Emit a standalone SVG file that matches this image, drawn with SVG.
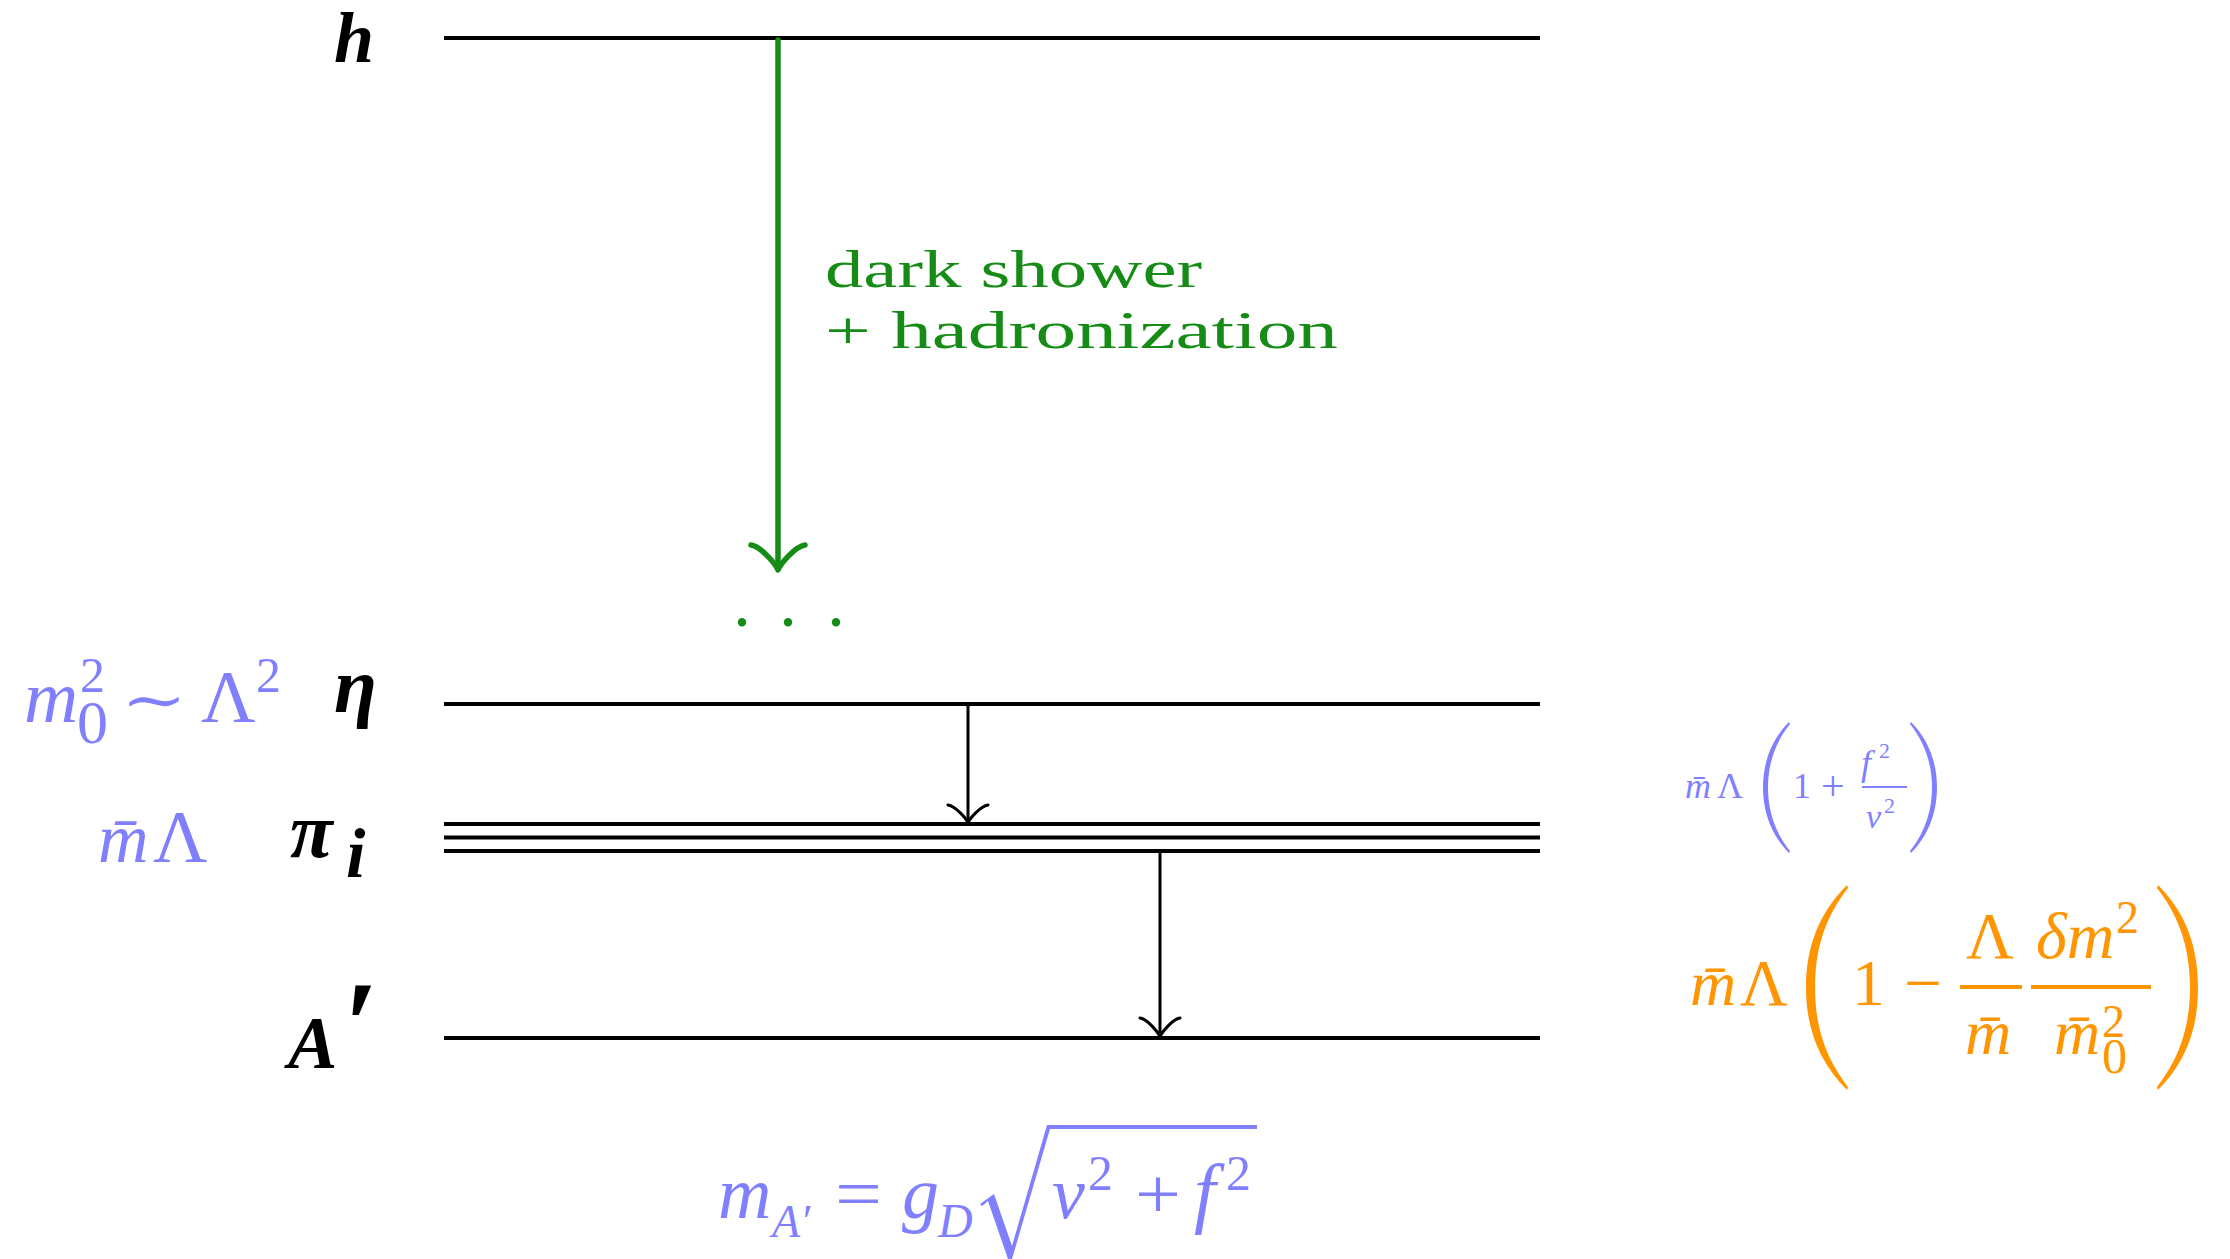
<svg xmlns="http://www.w3.org/2000/svg" width="2230" height="1259" viewBox="0 0 2230 1259">
<style>
.lvl{stroke:#000;stroke-width:4;fill:none}
.arr{stroke:#000;stroke-width:3;fill:none;stroke-linecap:round;stroke-linejoin:round}
.garr{stroke:#168c16;stroke-width:5.5;fill:none;stroke-linecap:round;stroke-linejoin:round}
.lbl{font-family:'Liberation Serif','DejaVu Serif',serif;font-style:italic;font-weight:bold;fill:#000}
.mi{font-family:'Liberation Serif','DejaVu Serif',serif;font-style:italic}
.mr{font-family:'Liberation Serif','DejaVu Serif',serif}
.blue{fill:#8080ff}
.orange{fill:#ff9500}
.green{fill:#168c16;font-family:'Liberation Serif','DejaVu Serif',serif}
.bbar{stroke:#8080ff;fill:none}
.obar{stroke:#ff9500;fill:none}
</style>
<rect width="2230" height="1259" fill="#fff"/>

<g id="level-h">
  <line class="lvl" x1="444" y1="38" x2="1540" y2="38"/>
  <text class="lbl" x="334" y="62" font-size="72">h</text>
</g>

<g id="ellipsis">
  <text class="green" font-size="72" x="733 779 827" y="626">...</text>
</g>

<g id="level-eta">
  <line class="lvl" x1="444" y1="704" x2="1540" y2="704"/>
  <text class="lbl" x="334" y="712" font-size="78">η</text>
  <g id="label-m0">
    <text class="mi blue" x="24" y="722" font-size="75">m</text>
    <text class="mr blue" x="80" y="692" font-size="50">2</text>
    <text class="mr blue" x="77" y="743" font-size="62">0</text>
    <text class="mr blue" x="121" y="720" font-size="58" textLength="66" lengthAdjust="spacingAndGlyphs">∼</text>
    <text class="mr blue" x="201" y="722" font-size="75">Λ</text>
    <text class="mr blue" x="256" y="692" font-size="50">2</text>
  </g>
</g>

<g id="level-pi">
  <line class="lvl" x1="444" y1="824" x2="1540" y2="824"/>
  <line class="lvl" x1="444" y1="837.5" x2="1540" y2="837.5"/>
  <line class="lvl" x1="444" y1="851" x2="1540" y2="851"/>
  <text class="lbl" x="290" y="857" font-size="78">π</text>
  <text class="lbl" x="346" y="877" font-size="70">i</text>
  <g id="label-mL">
    <text class="mi blue" x="98" y="862" font-size="70">m̄</text>
    <text class="mr blue" x="153" y="862" font-size="75">Λ</text>
  </g>
  <g id="label-pi-right">
    <text class="mi blue" x="1685" y="798" font-size="36">m̄</text>
    <text class="mr blue" x="1717" y="798" font-size="36">Λ</text>
    <path class="blue" d="M1789,722 C1770,741 1763,765 1763,787.5 C1763,810 1770,834 1789,853 L1790,851 C1774,831 1768,809 1768,787.5 C1768,766 1774,744 1790,724 Z"/>
    <text class="mr blue" x="1793" y="798" font-size="36">1</text>
    <text class="mr blue" x="1821" y="800" font-size="42">+</text>
    <text class="mi blue" x="1861" y="775" font-size="36">f</text>
    <text class="mr blue" x="1879" y="758" font-size="22">2</text>
    <line class="bbar" stroke-width="2.2" x1="1862" y1="787" x2="1907" y2="787"/>
    <text class="mi blue" x="1866" y="828" font-size="34">v</text>
    <text class="mr blue" x="1884" y="813" font-size="22">2</text>
    <path class="blue" d="M1911,722 C1930,741 1937,765 1937,787.5 C1937,810 1930,834 1911,853 L1910,851 C1926,831 1932,809 1932,787.5 C1932,766 1926,744 1910,724 Z"/>
  </g>
</g>

<g id="level-A">
  <line class="lvl" x1="444" y1="1038" x2="1540" y2="1038"/>
  <text class="lbl" x="288" y="1068" font-size="74">A<tspan font-size="125" dx="5">′</tspan></text>
  <g id="label-A-right">
    <text class="mi orange" x="1690" y="1005" font-size="64">m̄</text>
    <text class="mr orange" x="1740" y="1005" font-size="66">Λ</text>
    <path class="orange" d="M1847,885 C1817,915 1806,950 1806,987.5 C1806,1025 1817,1060 1847,1090 L1848,1087 C1823,1055 1815,1022 1815,987.5 C1815,953 1823,920 1848,888 Z"/>
    <text class="mr orange" x="1852" y="1005" font-size="66">1</text>
    <text class="mr orange" x="1904" y="1005" font-size="66" textLength="38" lengthAdjust="spacingAndGlyphs">−</text>
    <line class="obar" stroke-width="4" x1="1960" y1="987" x2="2022" y2="987"/>
    <text class="mr orange" x="1966" y="958" font-size="66">Λ</text>
    <text class="mi orange" x="1965" y="1054" font-size="64">m̄</text>
    <line class="obar" stroke-width="4" x1="2031" y1="987" x2="2151" y2="987"/>
    <text class="mi orange" x="2036" y="958" font-size="66">δm</text>
    <text class="mr orange" x="2116" y="933" font-size="46">2</text>
    <text class="mi orange" x="2054" y="1054" font-size="64">m̄</text>
    <text class="mr orange" x="2102" y="1037" font-size="46">2</text>
    <text class="mr orange" x="2102" y="1073" font-size="50">0</text>
    <path class="orange" d="M2158,885 C2188,915 2198,950 2198,987.5 C2198,1025 2188,1060 2158,1090 L2157,1087 C2182,1055 2190,1022 2190,987.5 C2190,953 2182,920 2157,888 Z"/>
  </g>
  <g id="label-mA">
    <text class="mi blue" x="718" y="1218" font-size="74">m</text>
    <text class="mi blue" x="772" y="1237" font-size="46">A′</text>
    <text class="mr blue" x="835" y="1218" font-size="72" textLength="47" lengthAdjust="spacingAndGlyphs">=</text>
    <text class="mi blue" x="902" y="1218" font-size="74">g</text>
    <text class="mi blue" x="938" y="1237" font-size="48">D</text>
    <path class="blue" d="M980,1204 L994,1194 L1012,1246 L1047,1125 L1257,1125 L1257,1129 L1050,1129 L1012,1259 L1008,1259 L988,1201 L982,1206 Z"/>
    <text class="mi blue" x="1052" y="1218" font-size="74">v</text>
    <text class="mr blue" x="1088" y="1190" font-size="50">2</text>
    <text class="mr blue" x="1135" y="1218" font-size="72" textLength="46" lengthAdjust="spacingAndGlyphs">+</text>
    <text class="mi blue" x="1194" y="1218" font-size="78">f</text>
    <text class="mr blue" x="1226" y="1190" font-size="50">2</text>
  </g>
</g>

<g id="connectors">
  <g id="shower-arrow">
    <line class="garr" x1="778" y1="40" x2="778" y2="569"/>
    <path class="garr" d="M751,545 C761,546.4 776.3,564.9 778,570 C779.7,564.9 795,546.4 805,545"/>
    <text class="green" font-size="52" x="825" y="287" textLength="377" lengthAdjust="spacingAndGlyphs">dark shower</text>
    <text class="green" font-size="52" x="825" y="348" textLength="513" lengthAdjust="spacingAndGlyphs">+ hadronization</text>
  </g>
  <g id="eta-to-pi">
    <line class="arr" x1="968" y1="704" x2="968" y2="823"/>
    <path class="arr" d="M948,805 C955.5,806 966.7,819 968,823 C969.3,819 980.5,806 988,805"/>
  </g>
  <g id="pi-to-A">
    <line class="arr" x1="1160" y1="851" x2="1160" y2="1037"/>
    <path class="arr" d="M1140,1018 C1147.5,1019 1158.7,1033 1160,1037 C1161.3,1033 1172.5,1019 1180,1018"/>
  </g>
</g>
</svg>
